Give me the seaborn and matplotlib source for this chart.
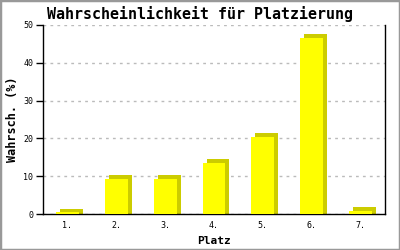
import matplotlib
matplotlib.use("Agg")
import matplotlib.pyplot as plt
import matplotlib.transforms as mtransforms
from matplotlib.patches import Rectangle
import seaborn as sns
import pandas as pd

places = ["1.", "2.", "3.", "4.", "5.", "6.", "7."]
probs = [0.4, 9.3, 9.3, 13.6, 20.4, 46.6, 0.9]
yticks = [0, 10, 20, 30, 40, 50]

sns.set_style("white")
plt.rcParams['font.family'] = ['DejaVu Sans Mono', 'DejaVu Sans']
plt.rcParams['text.color'] = 'black'
plt.rcParams['axes.labelcolor'] = 'black'
plt.rcParams['xtick.color'] = 'black'
plt.rcParams['ytick.color'] = 'black'

df = pd.DataFrame({"Platz": places, "Wahrsch": probs})
df["shadow"] = df["Wahrsch"] + 1.05

fig = plt.figure(figsize=(4, 2.5), dpi=100)
ax = fig.add_axes([43/400, 1-214/250, (385-43)/400, (214-25)/250])

# shadow (3D side) bars
sns.barplot(data=df, x="Platz", y="shadow", color="#CCCC00", saturation=1,
            width=0.47, ax=ax, zorder=2)
n_sh = len(ax.patches)
shift = mtransforms.ScaledTranslation(4/100, 0, fig.dpi_scale_trans)
for p in ax.patches[:n_sh]:
    p.set_transform(ax.transData + shift)
    p.set_linewidth(0)
# front bars
sns.barplot(data=df, x="Platz", y="Wahrsch", color="#FFFF00", saturation=1,
            width=0.47, ax=ax, zorder=3)
for p in ax.patches[n_sh:]:
    p.set_linewidth(0)

ax.set_ylim(0, 50)
ax.set_xlim(-0.5, 6.5)
ax.set_yticks(yticks)
ax.set_yticklabels([str(v) for v in yticks], fontsize=6)
ax.tick_params(axis="y", which="major", length=5, width=1, color="black", pad=2, left=True)
ax.tick_params(axis="x", length=0, pad=5, labelsize=6)
ax.yaxis.grid(True, color="#bbbbbb", linestyle=(0, (2, 3)), linewidth=1)
ax.set_axisbelow(True)

for s in ["left", "bottom", "right"]:
    ax.spines[s].set_visible(True)
    ax.spines[s].set_color("black")
    ax.spines[s].set_linewidth(1)
ax.spines["top"].set_visible(False)

ax.set_xlabel("Platz", fontsize=8, fontweight="bold", labelpad=4)
ax.set_ylabel("Wahrsch. (%)", fontsize=8.5, fontweight="bold", labelpad=3)
fig.text(0.5, 1-14/250, "Wahrscheinlichkeit für Platzierung", ha="center",
         va="center", fontsize=10.8, fontweight="bold")

fig.patches.append(Rectangle((0, 0), 1, 1, transform=fig.transFigure,
                             fill=False, edgecolor="#999999", linewidth=2.5))

fig.savefig("out.png", dpi=100)
